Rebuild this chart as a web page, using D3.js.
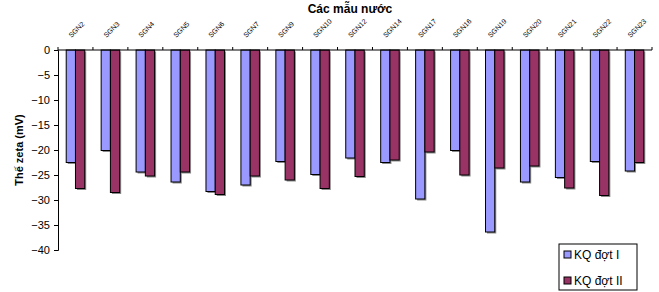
<!DOCTYPE html>
<html>
<head>
<meta charset="utf-8">
<script src="https://cdn.jsdelivr.net/npm/d3@7"></script>
<style>
  body { margin: 0; background: #fff; }
  text { font-family: "Liberation Sans", Arial, sans-serif; }
</style>
</head>
<body>
<div id="chart"></div>
<script>
var categories = ["SGN2", "SGN3", "SGN4", "SGN5", "SGN6", "SGN7", "SGN9", "SGN10", "SGN12",
                  "SGN14", "SGN17", "SGN16", "SGN19", "SGN20", "SGN21", "SGN22", "SGN23"];
var dot1 = [-22.5, -20.1, -24.4, -26.4, -28.3, -27.0, -22.3, -24.9, -21.6,
            -22.5, -29.8, -20.1, -36.4, -26.4, -25.5, -22.3, -24.2];
var dot2 = [-27.7, -28.5, -25.2, -24.4, -28.9, -25.2, -26.0, -27.7, -25.3,
            -22.0, -20.4, -25.0, -23.6, -23.2, -27.6, -29.1, -22.5];
var seriesNames = ["KQ đợt I", "KQ đợt II"];
var colors = ["#9999ff", "#993366"];
var yTicks = [0, -5, -10, -15, -20, -25, -30, -35, -40];

var width = 659, height = 292;
var margin = {left: 58, right: 7, top: 50, bottom: 42};

var svg = d3.select("#chart").append("svg")
  .attr("width", width)
  .attr("height", height);

var x = d3.scaleBand()
  .domain(categories)
  .range([margin.left, width - margin.right])
  .paddingInner(0.47)
  .paddingOuter(0.235);

var xs = d3.scaleBand()
  .domain([0, 1])
  .range([0, x.bandwidth()]);

var y = d3.scaleLinear()
  .domain([0, -40])
  .range([margin.top, height - margin.bottom]);

// shadows
var rows = categories.map(function(c, i) { return {cat: c, v: [dot1[i], dot2[i]]}; });

var groups = svg.selectAll("g.cat")
  .data(rows)
  .enter()
  .append("g")
    .attr("class", "cat")
    .attr("transform", function(d) { return "translate(" + x(d.cat) + ",0)"; });

groups.selectAll("rect.shadow")
  .data(function(d) { return d.v; })
  .enter()
  .append("rect")
    .attr("class", "shadow")
    .attr("x", function(d, i) { return xs(i) + 1.5; })
    .attr("y", y(0) + 1.5)
    .attr("width", xs.bandwidth())
    .attr("height", function(d) { return y(d) - y(0); })
    .attr("fill", "#8a8a8a");

groups.selectAll("rect.bar")
  .data(function(d) { return d.v; })
  .enter()
  .append("rect")
    .attr("class", "bar")
    .attr("x", function(d, i) { return xs(i); })
    .attr("y", y(0))
    .attr("width", xs.bandwidth())
    .attr("height", function(d) { return y(d) - y(0); })
    .attr("fill", function(d, i) { return colors[i]; })
    .attr("stroke", "#000")
    .attr("stroke-width", 1);

// y axis
var yAxis = d3.axisLeft(y)
  .tickValues(yTicks)
  .tickSize(4)
  .tickFormat(d3.format("d"));

var ya = svg.append("g")
  .attr("transform", "translate(" + margin.left + ",0)")
  .call(yAxis);
ya.select(".domain").attr("stroke", "#000");
ya.selectAll("text")
  .attr("font-size", 11)
  .attr("x", -8)
  .attr("fill", "#000");

// top axis at zero, ticks between categories
var step = x.step();
var bounds = d3.range(categories.length + 1).map(function(i) {
  return margin.left + i * step;
});
svg.append("line")
  .attr("x1", margin.left).attr("x2", width - margin.right)
  .attr("y1", y(0)).attr("y2", y(0))
  .attr("stroke", "#000");
svg.selectAll("line.xt")
  .data(bounds)
  .enter()
  .append("line")
    .attr("class", "xt")
    .attr("x1", function(d) { return d; })
    .attr("x2", function(d) { return d; })
    .attr("y1", y(0) - 3)
    .attr("y2", y(0))
    .attr("stroke", "#000");

// category labels
svg.selectAll("text.cat")
  .data(categories)
  .enter()
  .append("text")
    .attr("class", "cat")
    .attr("transform", function(d) {
      return "translate(" + (x(d) + x.bandwidth() / 2 - 4) + "," + 38 + ") rotate(-45)";
    })
    .attr("font-size", 7)
    .attr("fill", "#000")
    .text(function(d) { return d; });

// titles
svg.append("text")
  .attr("x", 350)
  .attr("y", 13)
  .attr("text-anchor", "middle")
  .attr("font-size", 12)
  .attr("font-weight", "bold")
  .text("Các mẫu nước");

svg.append("text")
  .attr("transform", "translate(23," + 150 + ") rotate(-90)")
  .attr("text-anchor", "middle")
  .attr("font-size", 11)
  .attr("font-weight", "bold")
  .text("Thế zeta (mV)");

// legend
var legend = svg.append("g").attr("transform", "translate(559,244)");
legend.append("rect")
  .attr("width", 78).attr("height", 46)
  .attr("fill", "#fff")
  .attr("stroke", "#000");
legend.selectAll("g.item")
  .data(seriesNames)
  .enter()
  .append("g")
    .attr("class", "item")
    .attr("transform", function(d, i) { return "translate(0," + (11 + i * 26) + ")"; })
    .each(function(d, i) {
      var g = d3.select(this);
      g.append("rect")
        .attr("x", 5).attr("y", -4)
        .attr("width", 7).attr("height", 7)
        .attr("fill", colors[i])
        .attr("stroke", "#000");
      g.append("text")
        .attr("x", 15).attr("y", 4)
        .attr("font-size", 12)
        .text(d);
    });
</script>
</body>
</html>
